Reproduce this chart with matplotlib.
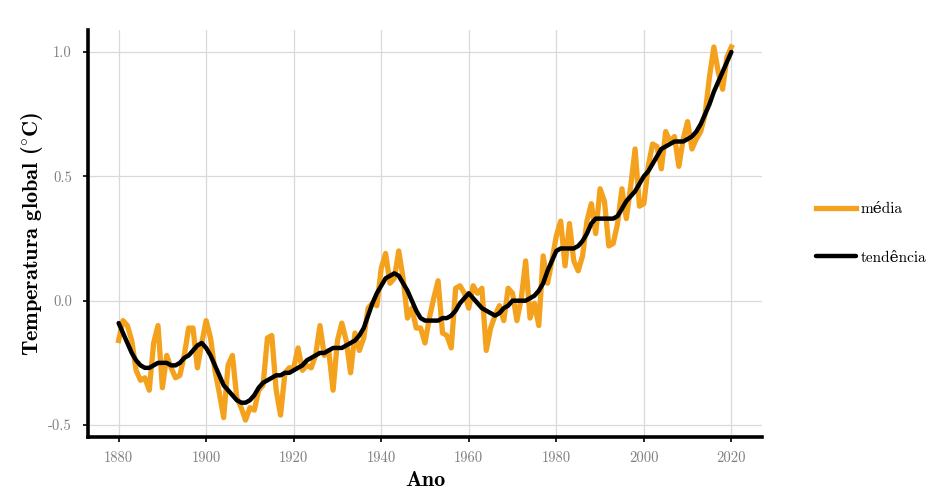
"""
Temperatura global: média anual + tendência (lowess)
"""
import matplotlib
matplotlib.use("Agg")
import matplotlib.pyplot as plt

# ── data ─────────────────────────────────────────────────────────────────────
anos = list(range(1880, 2021))

media = [
    -0.16, -0.08, -0.10, -0.16, -0.28, -0.32, -0.31, -0.36, -0.17, -0.10,
    -0.35, -0.22, -0.27, -0.31, -0.30, -0.22, -0.11, -0.11, -0.27, -0.17,
    -0.08, -0.15, -0.28, -0.37, -0.47, -0.26, -0.22, -0.39, -0.43, -0.48,
    -0.43, -0.44, -0.36, -0.34, -0.15, -0.14, -0.36, -0.46, -0.29, -0.27,
    -0.27, -0.19, -0.28, -0.26, -0.27, -0.22, -0.10, -0.22, -0.20, -0.36,
    -0.16, -0.09, -0.16, -0.29, -0.13, -0.20, -0.15, -0.03, -0.01, -0.02,
     0.13,  0.19,  0.07,  0.09,  0.20,  0.09, -0.07, -0.03, -0.11, -0.11,
    -0.17, -0.07,  0.01,  0.08, -0.13, -0.14, -0.19,  0.05,  0.06,  0.03,
    -0.03,  0.06,  0.03,  0.05, -0.20, -0.11, -0.06, -0.02, -0.08,  0.05,
     0.03, -0.08,  0.01,  0.16, -0.07, -0.01, -0.10,  0.18,  0.07,  0.16,
     0.26,  0.32,  0.14,  0.31,  0.16,  0.12,  0.18,  0.32,  0.39,  0.27,
     0.45,  0.40,  0.22,  0.23,  0.31,  0.45,  0.33,  0.46,  0.61,  0.38,
     0.39,  0.54,  0.63,  0.62,  0.53,  0.68,  0.64,  0.66,  0.54,  0.65,
     0.72,  0.61,  0.65,  0.68,  0.75,  0.90,  1.02,  0.92,  0.85,  0.98,
     1.02,
]

tendencia = [
    -0.09, -0.13, -0.17, -0.21, -0.24, -0.26, -0.27, -0.27, -0.26, -0.25,
    -0.25, -0.25, -0.26, -0.26, -0.25, -0.23, -0.22, -0.20, -0.18, -0.17,
    -0.19, -0.22, -0.26, -0.30, -0.34, -0.36, -0.38, -0.40, -0.41, -0.41,
    -0.40, -0.38, -0.35, -0.33, -0.32, -0.31, -0.30, -0.30, -0.29, -0.29,
    -0.28, -0.27, -0.26, -0.24, -0.23, -0.22, -0.21, -0.21, -0.20, -0.19,
    -0.19, -0.19, -0.18, -0.17, -0.16, -0.14, -0.11, -0.06, -0.01,  0.03,
     0.06,  0.09,  0.10,  0.11,  0.10,  0.07,  0.04,  0.00, -0.04, -0.07,
    -0.08, -0.08, -0.08, -0.08, -0.07, -0.07, -0.06, -0.04, -0.01,  0.01,
     0.03,  0.01, -0.01, -0.03, -0.04, -0.05, -0.06, -0.05, -0.03, -0.02,
     0.00,  0.00,  0.00,  0.00,  0.01,  0.02,  0.04,  0.07,  0.12,  0.16,
     0.20,  0.21,  0.21,  0.21,  0.21,  0.22,  0.24,  0.27,  0.31,  0.33,
     0.33,  0.33,  0.33,  0.33,  0.34,  0.37,  0.40,  0.42,  0.44,  0.47,
     0.50,  0.52,  0.55,  0.58,  0.61,  0.62,  0.63,  0.64,  0.64,  0.64,
     0.65,  0.66,  0.68,  0.71,  0.75,  0.79,  0.84,  0.88,  0.92,  0.96,
     1.00,
]

x_ticks = [1880, 1900, 1920, 1940, 1960, 1980, 2000, 2020]
y_ticks = [-0.5, 0.0, 0.5, 1.0]

# ── style ────────────────────────────────────────────────────────────────────
plt.rcParams["font.family"] = ["cmr10", "DejaVu Serif"]
plt.rcParams["mathtext.fontset"] = "cm"
plt.rcParams["axes.unicode_minus"] = False
plt.rcParams["axes.formatter.use_mathtext"] = False

LARANJA = "#F4A21E"
BOLD = ["cmb10", "DejaVu Serif"]

fig = plt.figure(figsize=(9.32, 4.93), dpi=100, facecolor="white")
ax = fig.add_axes([0.0944, 0.1136, 0.7232, 0.8254])

ax.plot(anos, media, color=LARANJA, linewidth=3.8, label="média",
        solid_joinstyle="round", zorder=3)
ax.plot(anos, tendencia, color="black", linewidth=3.2, label="tendência",
        solid_capstyle="round", zorder=4)

ax.set_xlim(1873, 2027)
ax.set_ylim(-0.548, 1.088)
ax.set_xticks(x_ticks)
ax.set_yticks(y_ticks)
ax.set_yticklabels([f"{v:.1f}" for v in y_ticks])

ax.grid(True, color="#d9d9d9", linewidth=0.9, zorder=0)
ax.set_axisbelow(True)
for s in ["top", "right"]:
    ax.spines[s].set_visible(False)
for s in ["left", "bottom"]:
    ax.spines[s].set_linewidth(2.6)
    ax.spines[s].set_color("black")
ax.tick_params(length=3.5, width=1.2, colors="black", labelcolor="#7f7f7f",
               labelsize=10.5)
ax.tick_params(axis="x", pad=7)
ax.tick_params(axis="y", pad=8)

ax.set_xlabel("Ano", family=BOLD, fontsize=16, labelpad=4)
ax.set_ylabel(r"Temperatura global ($^{\circ}$C)", family=BOLD,
              fontsize=16, labelpad=2)

ax.legend(loc="center left", bbox_to_anchor=(1.06, 0.5), frameon=False,
          fontsize=11, handlelength=2.6, labelspacing=2.3, handletextpad=0.3)

fig.savefig("out.png", dpi=100, facecolor="white")
